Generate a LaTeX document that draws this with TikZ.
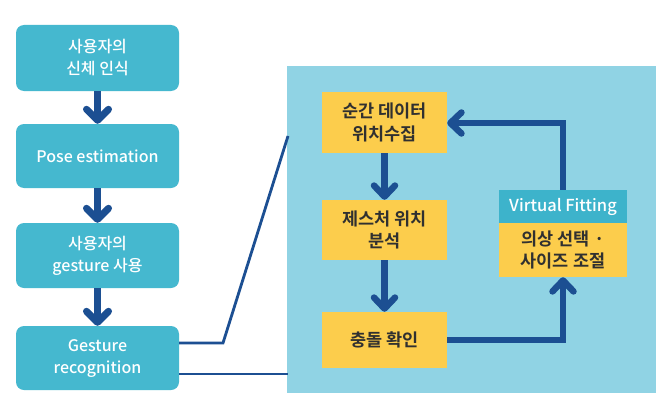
\documentclass[tikz,border=0pt]{standalone}
\usepackage{fontspec}
\setmainfont{Noto Sans CJK KR}[UprightFont={* Medium},BoldFont={* Bold}]
\usetikzlibrary{arrows.meta}
\definecolor{teal}{HTML}{45B8CF}
\definecolor{vfteal}{HTML}{3DB3CB}
\definecolor{panelblue}{HTML}{90D3E4}
\definecolor{yel}{HTML}{FCCD4C}
\definecolor{navy}{HTML}{1C4F92}
\definecolor{txt}{HTML}{303030}
\begin{document}
\begin{tikzpicture}[x=1pt,y=-1pt,
  lbox/.style={fill=teal, rounded corners=8pt, minimum width=163pt, text=white, align=center, font=\fontsize{16}{22}\selectfont, inner sep=0pt},
  ybox/.style={fill=yel, minimum width=125pt, text=txt, align=center, font=\fontsize{17.5}{22.5}\selectfont\bfseries, inner sep=0pt},
  bigarrow/.style={draw=navy, line width=7pt, -{Straight Barb[length=11pt,width=22pt,round]}},
  midarrow/.style={draw=navy, line width=6.5pt, -{Straight Barb[length=11pt,width=21pt,round]}},
  link/.style={draw=navy, line width=2.8pt}]
\useasboundingbox (0,0) rectangle (658,396);
\fill[white] (0,0) rectangle (658,396);
% panel
\fill[panelblue] (287,66) rectangle (656,393);
% left column
\node[lbox, minimum height=66pt] (b1) at (97.5,58) {사용자의\\신체 인식};
\node[lbox, minimum height=64pt] (b2) at (97.5,156) {Pose estimation};
\node[lbox, minimum height=65pt] (b3) at (97.5,255.5) {사용자의\\gesture 사용};
\node[lbox, minimum height=64pt] (b4) at (97.5,358) {Gesture\\recognition};
\draw[bigarrow] (b1.south) -- (b2.north);
\draw[bigarrow] (b2.south) -- (b3.north);
\draw[bigarrow] (b3.south) -- (b4.north);
% right boxes
\node[ybox, minimum height=61pt] (ya) at (384.5,122.5) {순간 데이터\\위치수집};
\node[ybox, minimum height=60pt] (yb) at (384.5,230) {제스처 위치\\분석};
\node[ybox, minimum height=56pt] (yc) at (384.5,340) {충돌 확인};
\node[fill=vfteal, minimum width=128pt, minimum height=33pt, inner sep=0pt, text=white, font=\fontsize{16.5}{18}\selectfont] (vfh) at (563,206.5) {Virtual Fitting};
\node[ybox, minimum width=128pt, minimum height=54pt] (vfy) at (563,250) {의상 선택 ·\\사이즈 조절};
\draw[midarrow] (ya.south) -- (yb.north);
\draw[midarrow] (yb.south) -- (yc.north);
\draw[midarrow] (yc.east) -| (vfy.south);
\coordinate (turn) at (563,123);
\draw[midarrow] (vfh.north) -- (turn) -- (ya.east |- turn);
% links
\coordinate (p1) at (223,343);
\coordinate (p2) at (288,136);
\coordinate (p3) at (288,374);
\draw[link] (b4.east |- p1) -- (p1) -- (p2);
\draw[link] (b4.east |- p3) -- (p3);
\end{tikzpicture}
\end{document}
